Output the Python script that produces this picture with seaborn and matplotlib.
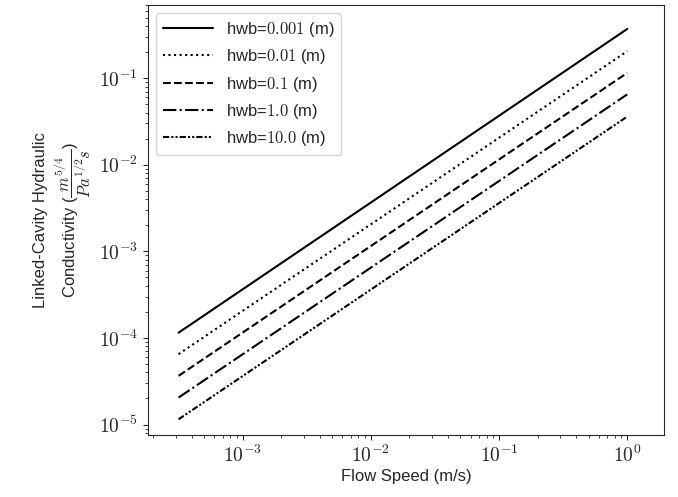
import matplotlib
matplotlib.use("Agg")
import matplotlib.pyplot as plt
import matplotlib.ticker as mticker
import seaborn as sns
import pandas as pd
import numpy as np

sns.set_style("ticks")
plt.rcParams['font.family'] = ['Liberation Sans', 'DejaVu Sans']
plt.rcParams['mathtext.fontset'] = 'cm'

speed = [10**-3.5, 1.0]
labels = ["0.001", "0.01", "0.1", "1.0", "10.0"]
cond = {
    "0.001": [1.15e-4, 0.37],
    "0.01": [6.5e-5, 0.205],
    "0.1": [3.65e-5, 0.115],
    "1.0": [2.05e-5, 0.065],
    "10.0": [1.15e-5, 0.036],
}
styles = ['-', ':', '--', '-.', (0, (3, 1, 1, 1, 1, 1))]

rows = []
for h in labels:
    for x, y in zip(speed, cond[h]):
        rows.append({"x": x, "y": y, "h": h})
df = pd.DataFrame(rows)

fig, ax = plt.subplots(figsize=(6.78, 4.97), dpi=100)
for h, ls in zip(labels, styles):
    sub = df[df.h == h]
    sns.lineplot(data=sub, x="x", y="y", ax=ax, color="black", linestyle=ls,
                 lw=1.5, label=f"hwb=${h}$ (m)")
ax.set_xscale("log")
ax.set_yscale("log")
fmt = mticker.FuncFormatter(lambda v, p: r"$10^{%d}$" % int(round(np.log10(v))))
ax.xaxis.set_major_formatter(fmt)
ax.yaxis.set_major_formatter(fmt)
ax.set_xlim(10**-3.74, 10**0.29)
ax.set_ylim(7.6e-6, 0.7)
ax.set_xlabel("Flow Speed (m/s)", fontsize=12, labelpad=2)
ax.set_ylabel("Linked-Cavity Hydraulic\nConductivity ($\\dfrac{m^{5/4}}{Pa^{1/2}s}$)", fontsize=12)
ax.tick_params(labelsize=14)
ax.legend(loc="upper left", fontsize=12, handlelength=3)
fig.subplots_adjust(left=0.218, right=0.98, top=0.99, bottom=0.125)
fig.savefig("out.png")
